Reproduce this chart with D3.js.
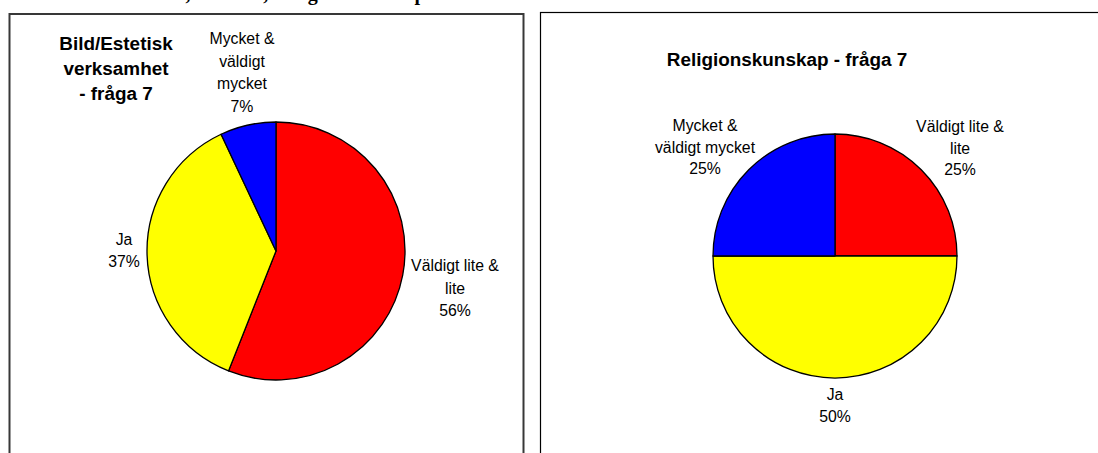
<!DOCTYPE html>
<html>
<head>
<meta charset="utf-8">
<script src="https://cdn.jsdelivr.net/npm/d3@7"></script>
<style>
  body { margin: 0; background: #fff; }
  svg { display: block; }
  .lbl { font-family: Arial, "Liberation Sans", sans-serif; font-size: 15.8px; fill: #000; }
  .ttl { font-family: Arial, "Liberation Sans", sans-serif; font-size: 18.9px; font-weight: bold; fill: #000; }
</style>
</head>
<body>
<div id="chart"></div>
<script>
// data
var categories = ['Väldigt lite & lite', 'Ja', 'Mycket & väldigt mycket'];
var colors = ['#ff0000', '#ffff00', '#0000ff'];
var bildValues = [56, 37, 7];
var religionValues = [25, 50, 25];

var W = 1098, H = 453;
var svg = d3.select('#chart').append('svg')
  .attr('width', W).attr('height', H);

// heading above the charts, cut off by the top of the picture
svg.append('text')
  .attr('x', 150).attr('y', -0.5)
  .style('font-family', '"Liberation Serif", "Times New Roman", serif')
  .style('font-size', '20px').style('font-weight', 'bold')
  .text('Bild, Estetisk, Religionskunskap');

// frames
svg.append('rect').attr('x', 9.5).attr('y', 14).attr('width', 514).attr('height', 460)
  .attr('fill', 'none').attr('stroke', '#383838').attr('stroke-width', 2);
svg.append('rect').attr('x', 540.5).attr('y', 12.5).attr('width', 600).attr('height', 460)
  .attr('fill', 'none').attr('stroke', '#000').attr('stroke-width', 1.2);

var pie = d3.pie().sort(null).value(function(d){ return d; });

function drawPie(values, cx, cy, r){
  var arc = d3.arc().innerRadius(0).outerRadius(r);
  var g = svg.append('g').attr('transform', 'translate(' + cx + ',' + cy + ')');
  g.selectAll('path').data(pie(values)).enter()
    .append('path')
    .attr('d', arc)
    .attr('fill', function(d, i){ return colors[i]; })
    .attr('stroke', '#000')
    .attr('stroke-width', 1.3)
    .attr('stroke-linejoin', 'round');
}

function multiline(lines, x, y, cls, lh){
  var t = svg.append('text').attr('class', cls).attr('text-anchor', 'middle');
  lines.forEach(function(s, i){
    t.append('tspan').attr('x', x).attr('y', y + i * lh).text(s);
  });
}

function pct(v){ return v + '%'; }

// left chart
drawPie(bildValues, 276, 251, 129);
multiline(['Bild/Estetisk', 'verksamhet', '- fråga 7'], 116, 50, 'ttl', 25);
multiline(['Mycket &', 'väldigt', 'mycket', pct(bildValues[2])], 242, 44, 'lbl', 22.5);
multiline(['Ja', pct(bildValues[1])], 124, 245, 'lbl', 22);
multiline(['Väldigt lite &', 'lite', pct(bildValues[0])], 455, 271, 'lbl', 22.5);

// right chart
drawPie(religionValues, 835, 256, 122);
multiline(['Religionskunskap - fråga 7'], 787, 66, 'ttl', 25);
multiline(['Mycket &', 'väldigt mycket', pct(religionValues[2])], 705, 131, 'lbl', 21.5);
multiline(['Väldigt lite &', 'lite', pct(religionValues[0])], 960, 132, 'lbl', 21.5);
multiline(['Ja', pct(religionValues[1])], 835, 400, 'lbl', 22);
</script>
</body>
</html>
